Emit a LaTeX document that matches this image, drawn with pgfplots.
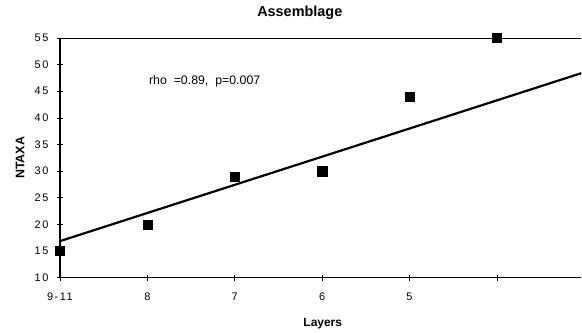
\documentclass[border=0pt]{standalone}
\usepackage{fontspec}
\setmainfont{Liberation Sans}
\newfontfamily\tickfont[LetterSpace=14]{Liberation Sans}
\usepackage{pgfplots}
\pgfplotsset{compat=1.18}
\begin{document}
\begin{tikzpicture}
\begin{axis}[
  scale only axis,
  width=522bp, height=240bp,
  xmin=0, xmax=5.966,
  ymin=10, ymax=55,
  axis lines=left,
  axis line style={-, line width=1.3bp, black},
  xtick={0,1,2,3,4,5},
  xticklabels={9-11,8,7,6,5,{}},
  ytick={10,15,...,55},
  tick align=center,
  major tick length=6bp,
  tick style={line width=0.6bp, black},
  /pgf/number format/assume math mode=true,
  ticklabel style={font=\tickfont\fontsize{11}{13}\selectfont},
  xticklabel style={yshift=-9bp},
  yticklabel style={xshift=-5bp},
  title={Assemblage},
  title style={font=\fontsize{14.5}{16}\selectfont\bfseries, at={(axis description cs:0.46,1)}, anchor=base, yshift=16bp},
  xlabel={Layers},
  xlabel style={font=\fontsize{12}{14}\selectfont\bfseries, at={(axis description cs:0.504,0)}, anchor=base, yshift=-49bp},
  ylabel={NTAXA},
  ylabel style={font=\fontsize{12.5}{14}\selectfont\bfseries, at={(axis description cs:0,0.5)}, anchor=center, yshift=40bp},
]
\addplot[only marks, mark=square*, mark size=4.6bp, black] coordinates {
  (0,15) (1,20) (2,29) (3,30) (4,44) (5,55) (6,36)
};
\addplot[line width=2.2bp, black] coordinates {(0,16.86) (6,48.57)};
\node[anchor=base west, font=\fontsize{12.4}{14}\selectfont] at (axis cs:0.98,46.2) {rho\ \ =0.89,\ \ p=0.007};
\draw[line width=0.8bp] (axis description cs:0,1) -- (axis description cs:1,1);
\end{axis}
\useasboundingbox ([shift={(-60bp,-52bp)}]current axis.south west) rectangle ([shift={(0bp,38bp)}]current axis.north east);
\end{tikzpicture}
\end{document}
